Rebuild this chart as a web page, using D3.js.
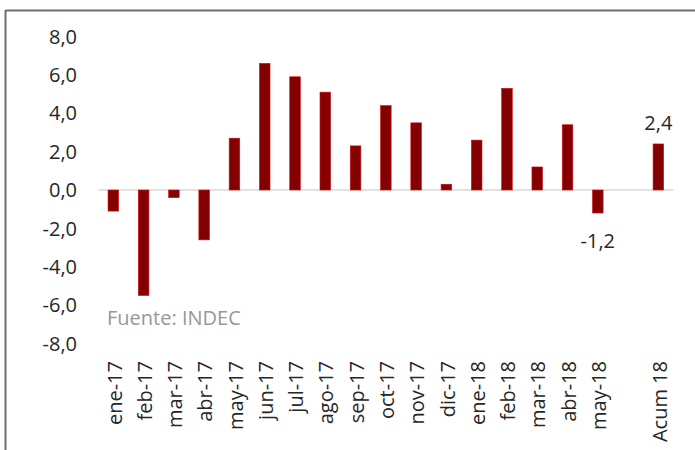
<!DOCTYPE html>
<html>
<head>
<meta charset="utf-8">
<script src="https://cdn.jsdelivr.net/npm/d3@7/dist/d3.min.js"></script>
<style>
  html, body { margin: 0; padding: 0; background: #fff; }
  svg { display: block; }
  text { font-family: "Open Sans", "Noto Sans", sans-serif; }
</style>
</head>
<body>
<svg id="chart" width="695" height="450"></svg>
<script>
// Data
const categories = ["ene-17","feb-17","mar-17","abr-17","may-17","jun-17","jul-17","ago-17","sep-17","oct-17","nov-17","dic-17","ene-18","feb-18","mar-18","abr-18","may-18","","Acum 18"];
const values = [-1.1,-5.5,-0.4,-2.6,2.7,6.6,5.9,5.1,2.3,4.4,3.5,0.3,2.6,5.3,1.2,3.4,-1.2,null,2.4];
const yTicks = [8,6,4,2,0,-2,-4,-6,-8];
const labelled = ["may-18","Acum 18"];
const source = "Fuente: INDEC";

const svg = d3.select("#chart");
const W = 695, H = 450;
const FS = 20;

// frame
svg.append("line").attr("x1",5.5).attr("x2",W).attr("y1",10.5).attr("y2",10.5)
  .attr("stroke","#6e6e6e").attr("stroke-width",2);
svg.append("line").attr("x1",5.5).attr("x2",5.5).attr("y1",10).attr("y2",H)
  .attr("stroke","#6e6e6e").attr("stroke-width",2);

const x = d3.scaleBand().domain(categories).range([98.2, 673.5]).paddingInner(0.65).paddingOuter(0.325);
const y = d3.scaleLinear().domain([-8, 8]).range([343.5, 36.5]);

const fmt = v => d3.format(".1f")(v).replace(".", ",").replace("−","-");

// y axis labels
svg.append("g").selectAll("text").data(yTicks).join("text")
  .attr("x", 77).attr("y", d => y(d)).attr("dy","0.36em")
  .attr("text-anchor","end").attr("font-size",FS).attr("fill","#262626")
  .text(d => fmt(d));

// zero line
svg.append("line").attr("x1",98.2).attr("x2",673.5).attr("y1",y(0)).attr("y2",y(0))
  .attr("stroke","#d9d9d9").attr("stroke-width",1.5);

// bars
const data = categories.map((c,i)=>({c, v: values[i]})).filter(d => d.v !== null);
svg.append("g").selectAll("rect").data(data).join("rect")
  .attr("x", d => x(d.c)).attr("width", x.bandwidth())
  .attr("y", d => y(Math.max(0,d.v))).attr("height", d => Math.abs(y(d.v)-y(0)))
  .attr("fill","#840000").attr("stroke","#d01010").attr("stroke-width",0.6);

// data labels
svg.append("g").selectAll("text").data(data.filter(d => labelled.includes(d.c))).join("text")
  .attr("x", d => x(d.c) + x.bandwidth()/2)
  .attr("y", d => d.v >= 0 ? y(d.v) - 21 : y(d.v) + 28)
  .attr("dy","0.36em")
  .attr("text-anchor","middle").attr("font-size",FS).attr("fill","#262626")
  .text(d => fmt(d.v));

// x labels
svg.append("g").selectAll("text").data(categories.filter(c => c !== "")).join("text")
  .attr("transform", d => `translate(${x(d) + x.bandwidth()/2 + 1},361) rotate(-90)`)
  .attr("dy","0.36em")
  .attr("text-anchor","end").attr("font-size",FS).attr("fill","#262626")
  .text(d => d);

// source
svg.append("text").attr("x",107).attr("y",318).attr("dy","0.36em")
  .attr("font-size",FS).attr("fill","#989898").text(source);
</script>
</body>
</html>
